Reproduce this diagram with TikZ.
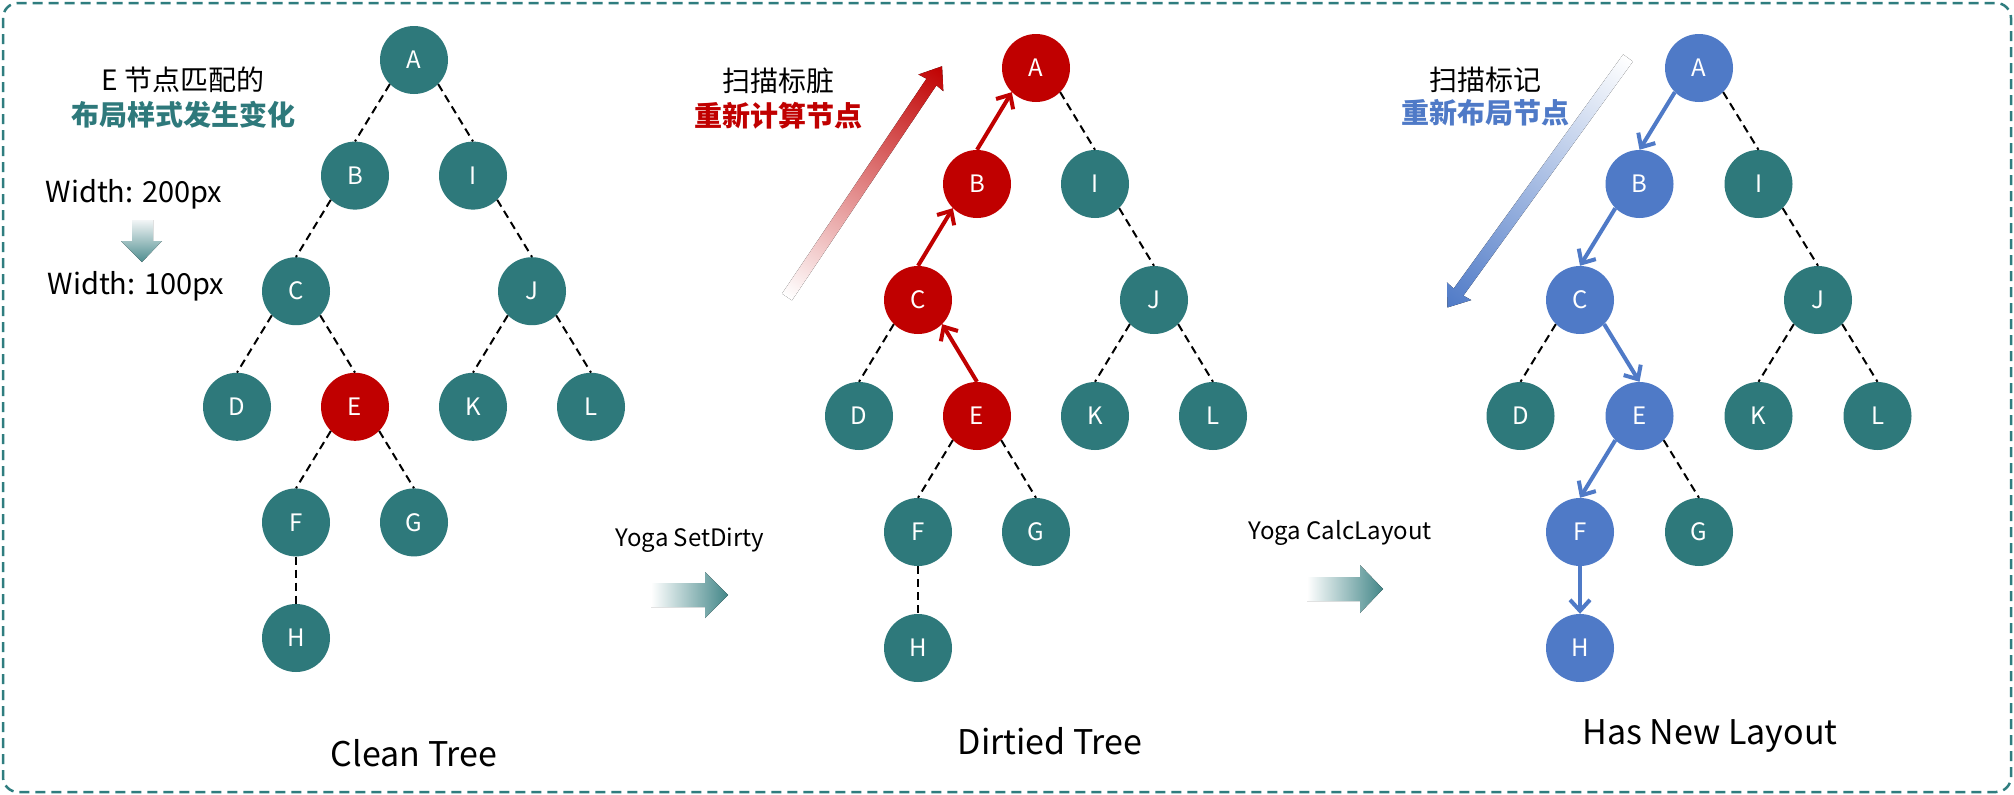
\documentclass[tikz,border=0pt]{standalone}
\usepackage{fontspec}
\setmainfont{Noto Sans CJK SC}
\usetikzlibrary{arrows.meta}
\definecolor{tealc}{HTML}{2E797B}
\definecolor{framec}{HTML}{2F7D7F}
\definecolor{redc}{HTML}{C00000}
\definecolor{bluec}{HTML}{4F7AC7}
\definecolor{lightc}{HTML}{F2F5F6}
\definecolor{midred}{HTML}{D2A9AC}
\definecolor{midblue}{HTML}{AFC3DA}
\newcommand\fs[1]{\fontsize{#1}{#1}\selectfont}
\newcommand\diagarrow[7]{%
  \begin{scope}[transform canvas={shift={(#1,#2)},rotate=#3}]
    \fill[left color=#5, middle color=#6, right color=#7] (0,-6) -- ({#4-19},-6) -- ({#4-20},-15) -- (#4,0) -- ({#4-20},15) -- ({#4-19},6) -- (0,6) -- cycle;
  \end{scope}}
\begin{document}
\begin{tikzpicture}[x=1pt, y=-1pt,
  tnode/.style={circle, minimum size=68pt, inner sep=0pt, text=white, font=\fs{24}},
  dline/.style={black, line width=2pt, dash pattern=on 8pt off 5pt},
  redarr/.style={redc, line width=4pt, -{Straight Barb[length=11pt,width=20pt]}},
  bluearr/.style={bluec, line width=4pt, -{Straight Barb[length=11pt,width=20pt]}},
  lbl/.style={font=\fs{28}, inner sep=0pt},
  captxt/.style={font=\fs{34}, inner sep=0pt},
  optxt/.style={font=\fs{24}, inner sep=0pt}]
\useasboundingbox (0,0) rectangle (2014,795);
\fill[white] (0,0) rectangle (2014,795);
\draw[framec, line width=2.5pt, dash pattern=on 10pt off 6pt, rounded corners=15pt] (3,3) rectangle (2011,792);

% ---------- Tree 1 ----------
\begin{scope}[shift={(414,60)}]
\foreach \n/\i/\j/\c in {A/0/0/tealc, B/-1/1/tealc, I/1/1/tealc, C/-2/2/tealc, J/2/2/tealc, D/-3/3/tealc, E/-1/3/redc, K/1/3/tealc, L/3/3/tealc, F/-2/4/tealc, G/0/4/tealc, H/-2/5/tealc}
  \node[tnode, fill=\c] (a\n) at (\i*59, \j*115.6) {\n};
\end{scope}
\draw[dline] (aA.-135) -- (aB.north);
\draw[dline] (aA.-45) -- (aI.north);
\draw[dline] (aB.-135) -- (aC.north);
\draw[dline] (aI.-45) -- (aJ.north);
\draw[dline] (aC.-135) -- (aD.north);
\draw[dline] (aC.-45) -- (aE.north);
\draw[dline] (aJ.-135) -- (aK.north);
\draw[dline] (aJ.-45) -- (aL.north);
\draw[dline] (aE.-135) -- (aF.north);
\draw[dline] (aE.-45) -- (aG.north);
\draw[dline] (aF.south) -- (aH.north);

% ---------- Tree 2 ----------
\begin{scope}[shift={(1036,68)}]
\foreach \n/\i/\j/\c in {A/0/0/redc, B/-1/1/redc, I/1/1/tealc, C/-2/2/redc, J/2/2/tealc, D/-3/3/tealc, E/-1/3/redc, K/1/3/tealc, L/3/3/tealc, F/-2/4/tealc, G/0/4/tealc, H/-2/5/tealc}
  \node[tnode, fill=\c] (b\n) at (\i*59, \j*116) {\n};
\end{scope}
\draw[dline] (bA.-45) -- (bI.north);
\draw[dline] (bI.-45) -- (bJ.north);
\draw[dline] (bC.-135) -- (bD.north);
\draw[dline] (bJ.-135) -- (bK.north);
\draw[dline] (bJ.-45) -- (bL.north);
\draw[dline] (bE.-135) -- (bF.north);
\draw[dline] (bE.-45) -- (bG.north);
\draw[dline] (bF.south) -- (bH.north);
\draw[redarr] (bE.north) -- (bC.-45);
\draw[redarr] (bC.north) -- (bB.-135);
\draw[redarr] (bB.north) -- (bA.-135);

% ---------- Tree 3 ----------
\begin{scope}[shift={(1699,68)}]
\foreach \n/\i/\j/\c in {A/0/0/bluec, B/-1/1/bluec, I/1/1/tealc, C/-2/2/bluec, J/2/2/tealc, D/-3/3/tealc, E/-1/3/bluec, K/1/3/tealc, L/3/3/tealc, F/-2/4/bluec, G/0/4/tealc, H/-2/5/bluec}
  \node[tnode, fill=\c] (c\n) at (\i*59.5, \j*116) {\n};
\end{scope}
\draw[dline] (cA.-45) -- (cI.north);
\draw[dline] (cI.-45) -- (cJ.north);
\draw[dline] (cC.-135) -- (cD.north);
\draw[dline] (cJ.-135) -- (cK.north);
\draw[dline] (cJ.-45) -- (cL.north);
\draw[dline] (cE.-45) -- (cG.north);
\draw[bluearr] (cA.-135) -- (cB.north);
\draw[bluearr] (cB.-135) -- (cC.north);
\draw[bluearr] (cC.-45) -- (cE.north);
\draw[bluearr] (cE.-135) -- (cF.north);
\draw[bluearr] (cF.south) -- (cH.north);

% ---------- gradient arrows ----------
\fill[top color=lightc, bottom color=tealc!85!white] (132,220) -- (153,220) -- (153,241) -- (162,241) -- (142,262) -- (121,241) -- (132,241) -- cycle;
\fill[left color=white, right color=tealc!90!white] (651,583) -- (705,583) -- (705,572) -- (728,595) -- (705,618) -- (705,607) -- (651,607) -- cycle;
\fill[left color=white, right color=tealc!90!white] (1307,577) -- (1360,577) -- (1360,565) -- (1383,589) -- (1360,613) -- (1360,601) -- (1307,601) -- cycle;
\diagarrow{787}{297}{56.1}{278}{white}{midred}{redc}
\diagarrow{1628}{58}{234.1}{308}{white}{midblue}{bluec}

% ---------- texts ----------
\node[lbl] (t1) at (183,80) {E 节点匹配的};
\node[lbl, font=\fs{28}\bfseries, text=tealc] (t2) at (183,115) {布局样式发生变化};
\node[lbl, font=\fs{29}] (w1) at (134,194) {Width: 200px};
\node[lbl, font=\fs{29}] (w2) at (136,286) {Width: 100px};
\node[lbl] (t3) at (778,81) {扫描标脏};
\node[lbl, font=\fs{28}\bfseries, text=redc] (t4) at (778,116) {重新计算节点};
\node[lbl] (t5) at (1485,80) {扫描标记};
\node[lbl, font=\fs{28}\bfseries, text=bluec] (t6) at (1485,113) {重新布局节点};
\node[optxt] (o1) at (690,540) {Yoga SetDirty};
\node[optxt] (o2) at (1340,533) {Yoga CalcLayout};
\node[captxt] (c1) at (414,753) {Clean Tree};
\node[captxt] (c2) at (1050,741) {Dirtied Tree};
\node[captxt] (c3) at (1710,736) {Has New Layout};
\end{tikzpicture}
\end{document}
